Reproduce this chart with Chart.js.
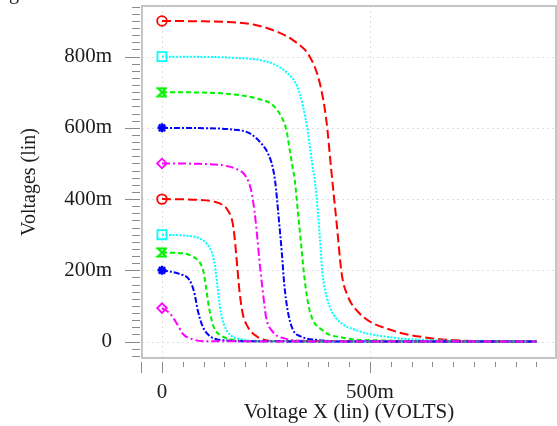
<!DOCTYPE html>
<html>
<head>
<meta charset="utf-8">
<script src="https://cdn.jsdelivr.net/npm/chart.js@4.4.0/dist/chart.umd.min.js"></script>
<style>
  html, body { margin: 0; padding: 0; background: #fff; }
  #wrap { width: 557px; height: 426px; }
</style>
</head>
<body>
<div id="wrap"><canvas id="vtcChart" width="557" height="426"></canvas></div>
<script>
// transfer curves, one per supply voltage (volts)
const vdd900X = [0, 0.1, 0.16, 0.22, 0.28, 0.32, 0.355, 0.379, 0.395, 0.407, 0.42, 0.432, 0.444, 0.475, 0.555, 0.637, 0.716, 0.9];
const vdd900Y = [0.9, 0.899, 0.897, 0.89, 0.868, 0.842, 0.8, 0.727, 0.622, 0.48, 0.33, 0.19, 0.135, 0.079, 0.031, 0.011, 0.003, 0];

const vdd800X = [0, 0.1, 0.163, 0.26, 0.3, 0.325, 0.339, 0.351, 0.361, 0.367, 0.375, 0.381, 0.385, 0.392, 0.403, 0.423, 0.467, 0.55, 0.65, 0.9];
const vdd800Y = [0.8, 0.799, 0.797, 0.783, 0.755, 0.716, 0.66, 0.586, 0.5, 0.455, 0.36, 0.266, 0.2, 0.145, 0.098, 0.06, 0.032, 0.012, 0.004, 0];

const vdd700X = [0, 0.1, 0.163, 0.226, 0.266, 0.287, 0.299, 0.307, 0.315, 0.319, 0.327, 0.335, 0.343, 0.355, 0.387, 0.435, 0.5, 0.9];
const vdd700Y = [0.7, 0.699, 0.695, 0.683, 0.664, 0.631, 0.594, 0.538, 0.482, 0.455, 0.36, 0.266, 0.173, 0.087, 0.031, 0.011, 0.004, 0];

const vdd600X = [0, 0.1, 0.162, 0.21, 0.238, 0.256, 0.266, 0.272, 0.28, 0.288, 0.294, 0.302, 0.314, 0.333, 0.371, 0.45, 0.9];
const vdd600Y = [0.6, 0.599, 0.596, 0.585, 0.557, 0.525, 0.49, 0.45, 0.355, 0.25, 0.16, 0.088, 0.035, 0.015, 0.005, 0.001, 0];

const vdd500X = [0, 0.09, 0.15, 0.18, 0.202, 0.214, 0.222, 0.229, 0.234, 0.242, 0.25, 0.266, 0.294, 0.35, 0.9];
const vdd500Y = [0.5, 0.499, 0.494, 0.484, 0.463, 0.426, 0.369, 0.294, 0.229, 0.145, 0.07, 0.028, 0.009, 0.002, 0];

const vdd400X = [0, 0.09, 0.125, 0.145, 0.158, 0.17, 0.176, 0.181, 0.186, 0.194, 0.206, 0.23, 0.262, 0.9];
const vdd400Y = [0.4, 0.398, 0.393, 0.384, 0.369, 0.332, 0.276, 0.21, 0.145, 0.079, 0.042, 0.013, 0.002, 0];

const vdd300X = [0, 0.06, 0.09, 0.108, 0.12, 0.127, 0.134, 0.141, 0.15, 0.165, 0.19, 0.24, 0.9];
const vdd300Y = [0.3, 0.297, 0.29, 0.274, 0.25, 0.215, 0.15, 0.085, 0.045, 0.018, 0.007, 0.001, 0];

const vdd250X = [0, 0.05, 0.075, 0.092, 0.1, 0.106, 0.113, 0.124, 0.142, 0.17, 0.22, 0.9];
const vdd250Y = [0.25, 0.248, 0.238, 0.22, 0.195, 0.152, 0.096, 0.042, 0.017, 0.005, 0.001, 0];

const vdd200X = [0, 0.042, 0.066, 0.078, 0.086, 0.098, 0.118, 0.155, 0.2, 0.9];
const vdd200Y = [0.2, 0.19, 0.173, 0.136, 0.088, 0.042, 0.013, 0.003, 0.001, 0];

const vdd100X = [0, 0.019, 0.036, 0.05, 0.075, 0.108, 0.9];
const vdd100Y = [0.094, 0.079, 0.05, 0.022, 0.006, 0.001, 0];

const seriesNames = ['0.9', '0.8', '0.7', '0.6', '0.5', '0.4', '0.3', '0.25', '0.2', '0.1'];
const seriesX = [vdd900X, vdd800X, vdd700X, vdd600X, vdd500X, vdd400X, vdd300X, vdd250X, vdd200X, vdd100X];
const seriesY = [vdd900Y, vdd800Y, vdd700Y, vdd600Y, vdd500Y, vdd400Y, vdd300Y, vdd250Y, vdd200Y, vdd100Y];

const xTickValues = [0, 0.5];
const xTickLabels = ['0', '500m'];
const yTickValues = [0, 0.2, 0.4, 0.6, 0.8];
const yTickLabels = ['0', '200m', '400m', '600m', '800m'];

const RED = '#ff0000', CYAN = '#00ffff', GREEN = '#00f000', BLUE = '#0000ff', MAGENTA = '#ff00ff';

// hourglass marker for the green curves
function makeHourglass(color) {
    const c = document.createElement('canvas');
    c.width = 11;
    c.height = 11;
    const g = c.getContext('2d');
    g.strokeStyle = color;
    g.lineWidth = 2;
    g.beginPath();
    g.moveTo(1.5, 1.5);
    g.lineTo(9.5, 1.5);
    g.lineTo(1.5, 9.5);
    g.lineTo(9.5, 9.5);
    g.closePath();
    g.stroke();
    return c;
}

const hourglass = makeHourglass(GREEN);

// colour, dash, marker, marker size per curve (the five styles repeat)
const styles = [
    { color: RED, dash: [9, 4], marker: 'circle', r: 4.8 },
    { color: CYAN, dash: [2, 1.5], marker: 'rect', r: 6.4 },
    { color: GREEN, dash: [5, 3], marker: hourglass, r: 5 },
    { color: BLUE, dash: [6, 2, 2, 2], marker: 'star', r: 4.5 },
    { color: MAGENTA, dash: [8, 3, 2, 3], marker: 'rectRot', r: 4.8 }
];

const datasets = seriesNames.map((name, i) => {
    const st = styles[i % styles.length];
    return {
        label: name,
        data: seriesX[i].map((x, j) => ({ x: x, y: seriesY[i][j] })),
        showLine: true,
        borderColor: st.color,
        backgroundColor: st.marker === 'star' ? st.color : 'rgba(0,0,0,0)',
        borderWidth: 2,
        borderDash: st.dash,
        cubicInterpolationMode: 'monotone',
        pointStyle: st.marker,
        pointRadius: ctx => ctx.dataIndex === 0 ? st.r : 0,
        pointBorderWidth: st.marker === 'star' ? 2.5 : 1.8,
        pointBorderColor: st.color,
        pointHoverRadius: 0
    };
}).reverse();

// no label overhang padding, the frame sits where the layout puts it
function noPadding(scale) {
    scale.paddingTop = 0;
    scale.paddingBottom = 0;
    scale.paddingLeft = 0;
    scale.paddingRight = 0;
}

const frameAndTicks = {
    id: 'frameAndTicks',
    beforeDatasetsDraw(chart) {
        const { ctx, chartArea: a, scales: { x, y } } = chart;
        ctx.save();

        // faint dotted grid at the labelled ticks
        ctx.strokeStyle = '#dedede';
        ctx.lineWidth = 1;
        ctx.setLineDash([2, 3]);
        ctx.beginPath();
        xTickValues.forEach(v => {
            const px = Math.round(x.getPixelForValue(v)) + 0.5;
            ctx.moveTo(px, a.top);
            ctx.lineTo(px, a.bottom);
        });
        yTickValues.forEach(v => {
            const py = Math.round(y.getPixelForValue(v)) + 0.5;
            ctx.moveTo(a.left, py);
            ctx.lineTo(a.right, py);
        });
        ctx.stroke();
        ctx.setLineDash([]);

        // plot frame
        ctx.strokeStyle = '#c4c4c4';
        ctx.lineWidth = 2;
        ctx.strokeRect(a.left, a.top, a.right - a.left, a.bottom - a.top);

        // tick marks outside the frame, minor every 20m (y) / 50m (x)
        ctx.strokeStyle = '#8a8a8a';
        ctx.lineWidth = 1;
        ctx.beginPath();
        for (let i = -2; i <= 47; i++) {
            const v = i * 0.02;
            const py = Math.round(y.getPixelForValue(v)) + 0.5;
            const major = i % 10 === 0;
            ctx.moveTo(a.left - (major ? 17 : 10), py);
            ctx.lineTo(a.left - 2, py);
        }
        for (let i = -1; i <= 18; i++) {
            const v = i * 0.05;
            const px = Math.round(x.getPixelForValue(v)) + 0.5;
            const major = i % 10 === 0 || i === -1;
            ctx.moveTo(px, a.bottom + 4);
            ctx.lineTo(px, a.bottom + (major ? 15 : 9));
        }
        ctx.stroke();

        // clipped caption letter at the very top
        ctx.fillStyle = '#1c1c1c';
        ctx.font = '20px "Liberation Serif"';
        ctx.textBaseline = 'alphabetic';
        ctx.fillText('g', 9, -1);
        ctx.restore();
    }
};

const serif = '"Liberation Serif", "Times New Roman", serif';
const tickFont = { family: serif, size: 21 };
const yTitleFont = { family: serif, size: 20 };

new Chart(document.getElementById('vtcChart').getContext('2d'), {
    type: 'scatter',
    data: { datasets: datasets },
    options: {
        responsive: false,
        animation: false,
        layout: { autoPadding: false, padding: { top: 6, right: 1, left: 0, bottom: 0 } },
        plugins: {
            legend: { display: false },
            tooltip: { enabled: false }
        },
        scales: {
            x: {
                type: 'linear',
                min: -0.048,
                max: 0.947,
                afterBuildTicks: scale => { scale.ticks = xTickValues.map(v => ({ value: v })); },
                afterFit: scale => { scale.height = 68; noPadding(scale); },
                grid: { display: false, drawTicks: false },
                border: { display: false },
                ticks: {
                    padding: 22,
                    maxRotation: 0,
                    autoSkip: false,
                    color: '#1c1c1c',
                    font: tickFont,
                    callback: v => xTickLabels[xTickValues.indexOf(v)]
                },
                title: {
                    display: true,
                    text: 'Voltage X (lin) (VOLTS)',
                    color: '#1c1c1c',
                    font: tickFont,
                    padding: { top: 0, bottom: 1 }
                }
            },
            y: {
                type: 'linear',
                min: -0.046,
                max: 0.942,
                afterBuildTicks: scale => { scale.ticks = yTickValues.map(v => ({ value: v })); },
                afterFit: scale => { scale.width = 142; noPadding(scale); },
                grid: { display: false, drawTicks: false },
                border: { display: false },
                ticks: {
                    padding: 30,
                    autoSkip: false,
                    color: '#1c1c1c',
                    font: tickFont,
                    callback: v => yTickLabels[yTickValues.indexOf(v)]
                },
                title: {
                    display: true,
                    text: 'Voltages (lin)',
                    color: '#1c1c1c',
                    font: yTitleFont,
                    padding: { top: 18, bottom: 0 }
                }
            }
        }
    },
    plugins: [frameAndTicks]
});
</script>
</body>
</html>
